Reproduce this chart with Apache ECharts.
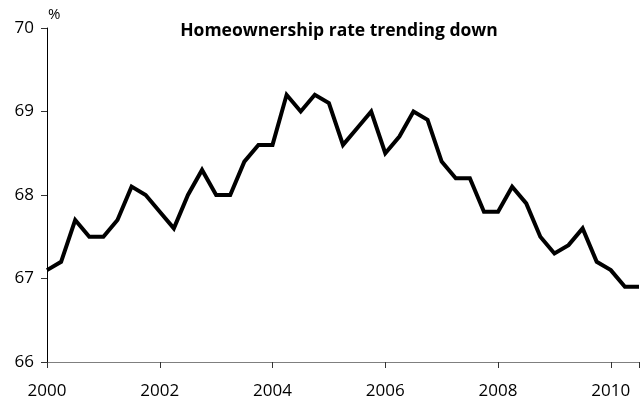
<!DOCTYPE html>
<html>
<head>
<meta charset="utf-8">
<script src="https://cdn.jsdelivr.net/npm/echarts@6/dist/echarts.min.js"></script>
<style>
  html, body { margin: 0; padding: 0; background: #fff; }
  #chart { width: 642px; height: 401px; }
</style>
</head>
<body>
<div id="chart"></div>
<script>
// Quarterly homeownership rate, 2000 Q1 – 2010 Q3 (%)
const startYear = 2000;
const rates = [
  67.1, 67.2, 67.7, 67.5,
  67.5, 67.7, 68.1, 68.0,
  67.8, 67.6, 68.0, 68.3,
  68.0, 68.0, 68.4, 68.6,
  68.6, 69.2, 69.0, 69.2,
  69.1, 68.6, 68.8, 69.0,
  68.5, 68.7, 69.0, 68.9,
  68.4, 68.2, 68.2, 67.8,
  67.8, 68.1, 67.9, 67.5,
  67.3, 67.4, 67.6, 67.2,
  67.1, 66.9, 66.9
];
const yTicks = [66, 67, 68, 69, 70];
const xTicks = [2000, 2002, 2004, 2006, 2008, 2010];

const points = rates.map((v, i) => [startYear + i * 0.25, v]);
const font = '"Open Sans", "Noto Sans", sans-serif';

const chart = echarts.init(document.getElementById('chart'), null, { renderer: 'canvas' });
chart.setOption({
  animation: false,
  title: {
    text: 'Homeownership rate trending down',
    left: 334, top: 17, textAlign: 'center',
    textStyle: { fontFamily: font, fontSize: 17.5, fontWeight: 'bold', color: '#000' }
  },
  graphic: [{
    type: 'text', left: 48, top: 7,
    style: { text: '%', fontFamily: font, fontSize: 15, fill: '#000' }
  }],
  grid: { left: 47, right: 3, top: 28, bottom: 39, containLabel: false },
  xAxis: {
    type: 'value',
    min: xTicks[0], max: 2010.5, interval: 2,
    axisLine: { show: true, onZero: false, lineStyle: { color: '#7f7f7f', width: 1 } },
    axisTick: { show: true, length: 6, lineStyle: { color: '#333', width: 1 } },
    axisLabel: { margin: 21, fontFamily: font, fontSize: 17, color: '#000',
      formatter: v => (xTicks.includes(v) ? String(v) : '') },
    splitLine: { show: false }
  },
  yAxis: {
    type: 'value',
    min: yTicks[0], max: yTicks[yTicks.length - 1], interval: 1,
    axisLine: { show: true, lineStyle: { color: '#000', width: 1 } },
    axisTick: { show: true, length: 6, lineStyle: { color: '#333', width: 1 } },
    axisLabel: { margin: 13, fontFamily: font, fontSize: 17, color: '#000' },
    splitLine: { show: false }
  },
  series: [{
    type: 'line',
    data: points,
    showSymbol: false,
    lineStyle: { color: '#000', width: 4, join: 'miter' },
    clip: false
  }]
});
</script>
</body>
</html>
